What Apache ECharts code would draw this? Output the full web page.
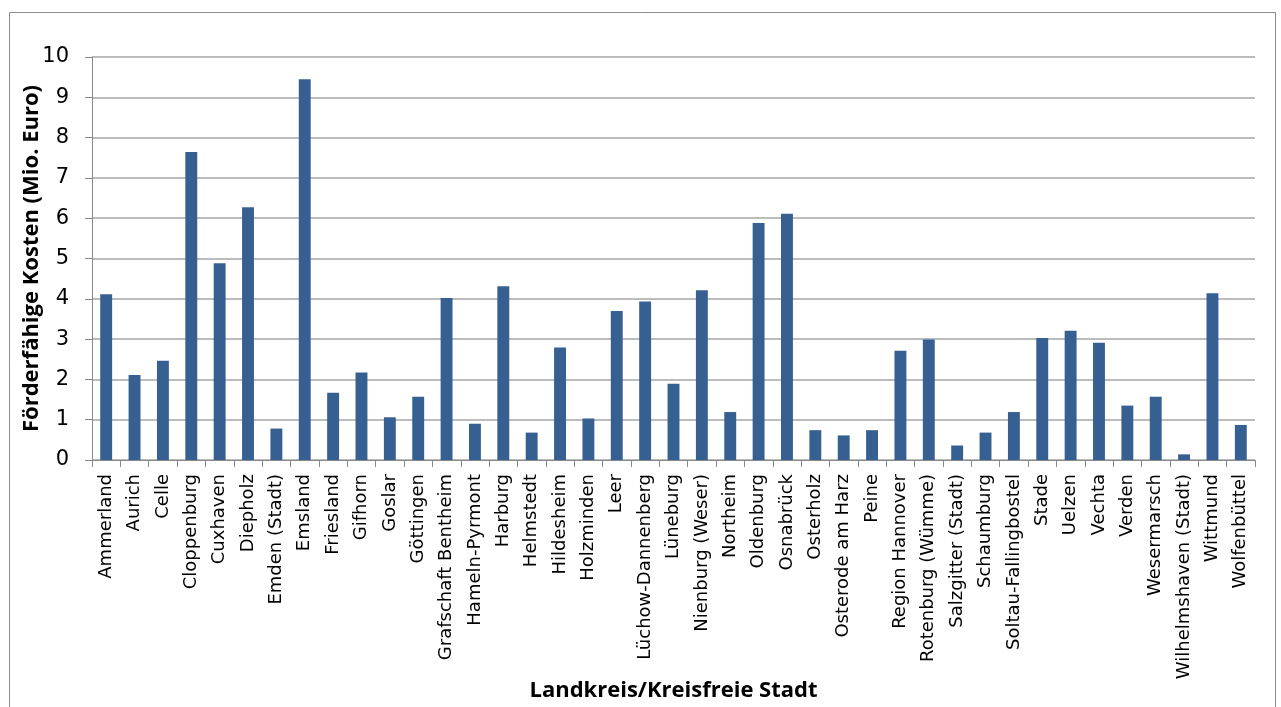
<!DOCTYPE html>
<html>
<head>
<meta charset="utf-8">
<script src="https://cdn.jsdelivr.net/npm/echarts@6/dist/echarts.min.js"></script>
<style>
  html, body { margin: 0; padding: 0; background: #fff; }
  #chart { width: 1281px; height: 707px; }
</style>
</head>
<body>
<div id="chart"></div>
<script>
var categories = [
    'Ammerland', 'Aurich', 'Celle', 'Cloppenburg', 'Cuxhaven', 'Diepholz',
    'Emden (Stadt)', 'Emsland', 'Friesland', 'Gifhorn', 'Goslar', 'Göttingen',
    'Grafschaft Bentheim', 'Hameln-Pyrmont', 'Harburg', 'Helmstedt', 'Hildesheim',
    'Holzminden', 'Leer', 'Lüchow-Dannenberg', 'Lüneburg', 'Nienburg (Weser)',
    'Northeim', 'Oldenburg', 'Osnabrück', 'Osterholz', 'Osterode am Harz', 'Peine',
    'Region Hannover', 'Rotenburg (Wümme)', 'Salzgitter (Stadt)', 'Schaumburg',
    'Soltau-Fallingbostel', 'Stade', 'Uelzen', 'Vechta', 'Verden', 'Wesermarsch',
    'Wilhelmshaven (Stadt)', 'Wittmund', 'Wolfenbüttel'
];

var kosten = [
    4.11, 2.11, 2.46, 7.64, 4.88, 6.27,
    0.78, 9.45, 1.67, 2.17, 1.06, 1.57,
    4.02, 0.90, 4.31, 0.68, 2.79,
    1.03, 3.70, 3.93, 1.89, 4.21,
    1.19, 5.88, 6.11, 0.74, 0.61, 0.74,
    2.71, 2.99, 0.36, 0.68,
    1.19, 3.03, 3.21, 2.91, 1.35, 1.57,
    0.14, 4.14, 0.87
];

var yTicks = [0, 10, 1]; // min, max, interval

var chart = echarts.init(document.getElementById('chart'));
var labelFont = '"DejaVu Sans", sans-serif';
var titleFont = '"Open Sans", sans-serif';

chart.setOption({
    animation: false,
    backgroundColor: '#fff',
    graphic: [{
        type: 'rect',
        shape: { x: 9.5, y: 12.5, width: 1266, height: 710 },
        style: { fill: 'none', stroke: '#8c8c8c', lineWidth: 1 }
    }],
    grid: { left: 92, right: 26, top: 57, bottom: 247, outerBoundsMode: 'none' },
    xAxis: {
        type: 'category',
        data: categories,
        name: 'Landkreis/Kreisfreie Stadt',
        nameLocation: 'middle',
        nameGap: 220,
        nameMoveOverlap: false,
        nameTextStyle: { fontFamily: titleFont, fontWeight: 'bold', fontSize: 22, color: '#000' },
        axisLine: { lineStyle: { color: '#898989', width: 1 } },
        axisTick: { show: true, length: 7, interval: 0, lineStyle: { color: '#898989' } },
        axisLabel: {
            interval: 0, rotate: 90, margin: 14,
            fontFamily: labelFont, fontSize: 18, color: '#000'
        }
    },
    yAxis: {
        type: 'value',
        min: yTicks[0], max: yTicks[1], interval: yTicks[2],
        name: 'Förderfähige Kosten (Mio. Euro)',
        nameLocation: 'middle',
        nameGap: 49,
        nameMoveOverlap: false,
        nameTextStyle: { fontFamily: titleFont, fontWeight: 'bold', fontSize: 22, color: '#000' },
        axisLine: { show: true, lineStyle: { color: '#898989', width: 1 } },
        axisTick: { show: true, length: 7, lineStyle: { color: '#898989' } },
        axisLabel: { margin: 23, fontFamily: labelFont, fontSize: 21, color: '#000' },
        splitLine: { lineStyle: { color: '#a6a6a6', width: 1.5 } }
    },
    series: [{
        type: 'bar',
        data: kosten,
        barWidth: '42%',
        itemStyle: { color: '#376092' }
    }]
});
</script>
</body>
</html>
